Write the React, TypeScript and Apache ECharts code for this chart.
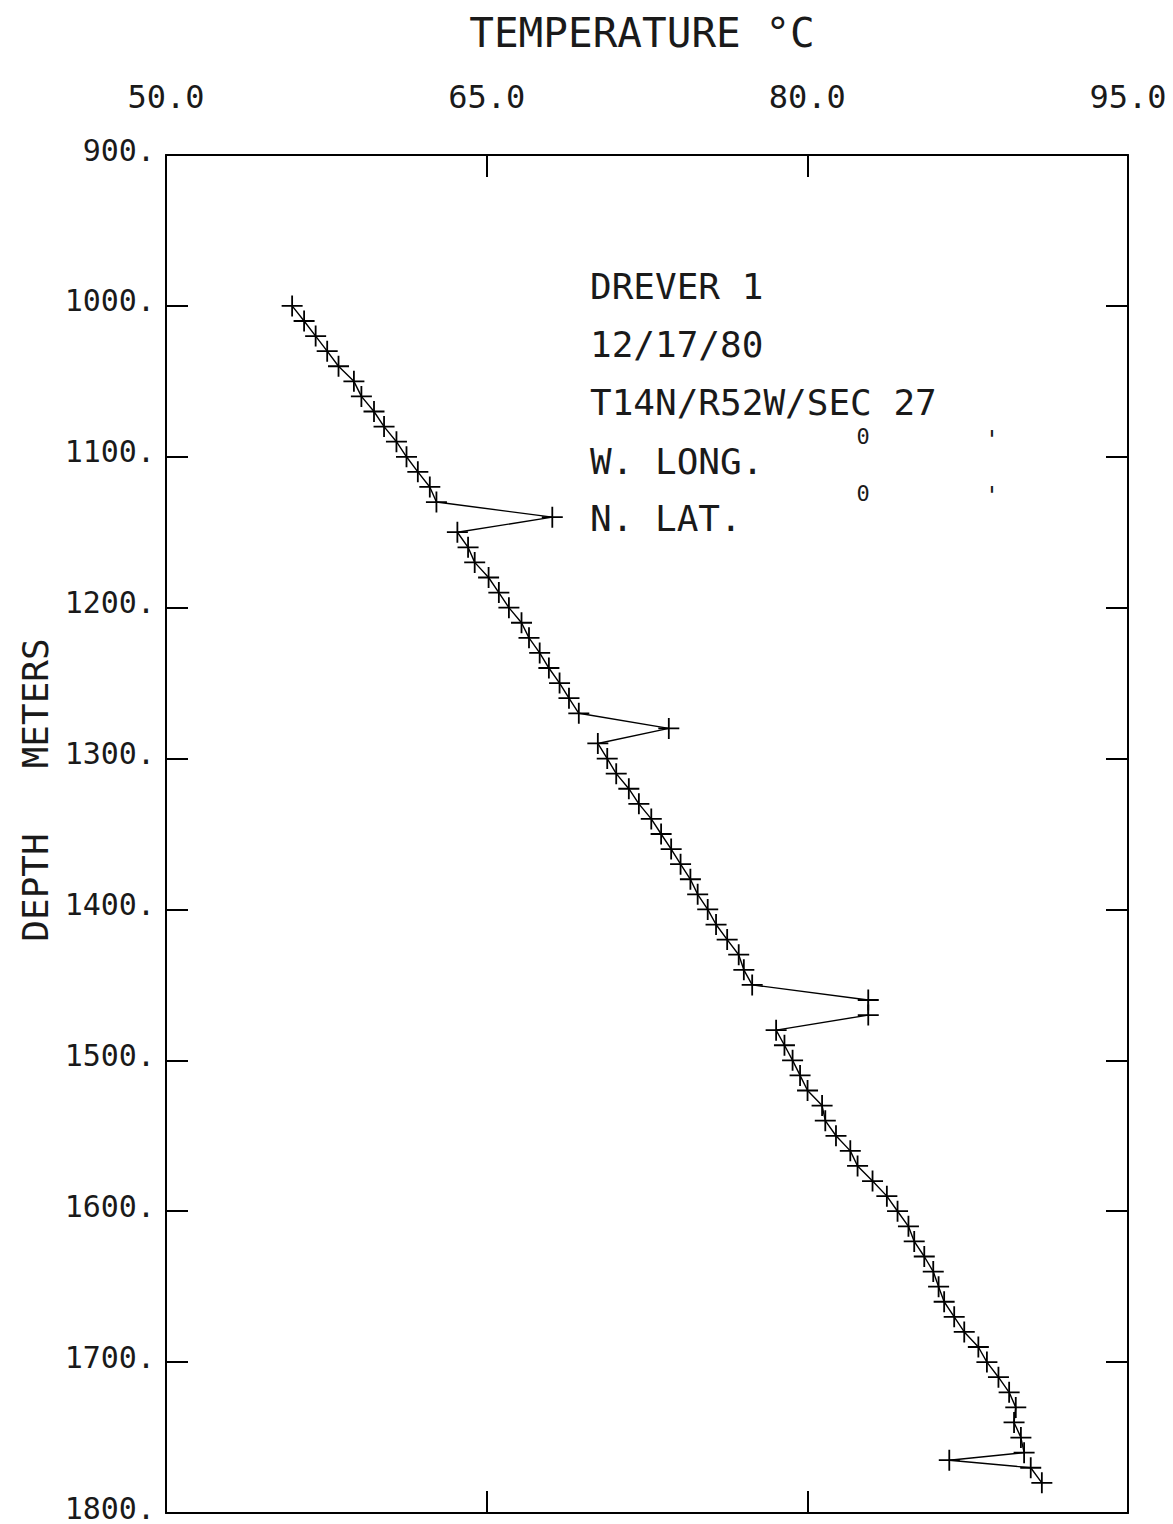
import React, { useEffect, useRef } from "react";
import * as echarts from "echarts";

const depths: number[] = [
  1000, 1010, 1020, 1030, 1040, 1050, 1060, 1070, 1080, 1090,
  1100, 1110, 1120, 1130, 1140, 1150, 1160, 1170, 1180, 1190,
  1200, 1210, 1220, 1230, 1240, 1250, 1260, 1270, 1280, 1290,
  1300, 1310, 1320, 1330, 1340, 1350, 1360, 1370, 1380, 1390,
  1400, 1410, 1420, 1430, 1440, 1450, 1460, 1470, 1480, 1490,
  1500, 1510, 1520, 1530, 1540, 1550, 1560, 1570, 1580, 1590,
  1600, 1610, 1620, 1630, 1640, 1650, 1660, 1670, 1680, 1690,
  1700, 1710, 1720, 1730, 1740, 1750, 1760, 1765, 1770, 1780,
];

const temps: number[] = [
  55.9, 56.46, 57.0, 57.54, 58.07, 58.79, 59.14, 59.73, 60.2, 60.78,
  61.25, 61.78, 62.34, 62.65, 68.07, 63.63, 64.13, 64.44, 65.09, 65.57,
  66.04, 66.63, 66.98, 67.48, 67.91, 68.41, 68.85, 69.31, 73.52, 70.2,
  70.64, 71.06, 71.65, 72.12, 72.7, 73.16, 73.63, 74.07, 74.53, 74.87,
  75.34, 75.73, 76.25, 76.79, 77.03, 77.42, 82.85, 82.85, 78.54, 78.93,
  79.31, 79.66, 80.01, 80.69, 80.84, 81.34, 82.01, 82.35, 83.05, 83.72,
  84.22, 84.73, 85.0, 85.47, 85.89, 86.14, 86.4, 86.87, 87.34, 88.0,
  88.4, 88.94, 89.44, 89.75, 89.67, 89.99, 90.14, 86.64, 90.45, 90.97,
];

const xTicks = { min: 50, max: 95, interval: 15 };
const yTicks = { min: 900, max: 1800, interval: 100 };

const titleText = "TEMPERATURE °C";
const yTitleText = "DEPTH   METERS";
const infoLines: string[] = [
  "DREVER 1",
  "12/17/80",
  "T14N/R52W/SEC 27",
  "W. LONG.",
  "N. LAT.",
];

const FONT = "'DejaVu Sans Mono', monospace";
const INK = "#1a1a1a";

export default function App() {
  const ref = useRef<HTMLDivElement>(null);

  useEffect(() => {
    if (!ref.current) return;
    const chart = echarts.init(ref.current, undefined, { renderer: "svg" });

    const points = depths.map((d, i) => [temps[i], d]);
    const axisLine = { show: true, lineStyle: { color: "#000", width: 2 } };
    const tick = { show: true, inside: true, length: 22, lineStyle: { color: "#000", width: 2 } };

    const infoY = [286, 344, 402, 461, 518];

    chart.setOption({
      animation: false,
      backgroundColor: "#fff",
      grid: { left: 166, right: 45, top: 155, bottom: 11, containLabel: false },
      xAxis: [
        {
          type: "value",
          position: "top",
          min: xTicks.min,
          max: xTicks.max,
          interval: xTicks.interval,
          axisLine,
          axisTick: tick,
          splitLine: { show: false },
          axisLabel: {
            show: true,
            margin: 42,
            fontFamily: FONT,
            fontSize: 32,
            color: INK,
            formatter: (v: number) => v.toFixed(1),
          },
        },
        {
          type: "value",
          position: "bottom",
          min: xTicks.min,
          max: xTicks.max,
          interval: xTicks.interval,
          axisLine,
          axisTick: tick,
          splitLine: { show: false },
          axisLabel: { show: false },
        },
      ],
      yAxis: [
        {
          type: "value",
          position: "left",
          inverse: true,
          min: yTicks.min,
          max: yTicks.max,
          interval: yTicks.interval,
          axisLine,
          axisTick: tick,
          splitLine: { show: false },
          axisLabel: {
            show: true,
            margin: 11,
            fontFamily: FONT,
            fontSize: 30,
            color: INK,
            verticalAlign: "bottom",
            lineHeight: 10,
            formatter: (v: number) => `${v}.`,
          },
        },
        {
          type: "value",
          position: "right",
          inverse: true,
          min: yTicks.min,
          max: yTicks.max,
          interval: yTicks.interval,
          axisLine,
          axisTick: tick,
          splitLine: { show: false },
          axisLabel: { show: false },
        },
      ],
      series: [
        {
          type: "line",
          xAxisIndex: 0,
          yAxisIndex: 0,
          data: points,
          symbol: "path://M0,10L20,10M10,0L10,20",
          symbolSize: 21,
          showSymbol: true,
          lineStyle: { color: "#000", width: 1.4 },
          itemStyle: { color: "transparent", borderColor: "#000", borderWidth: 1.8 },
          z: 3,
        },
      ],
      graphic: [
        {
          type: "text",
          x: 642,
          y: 33,
          style: {
            text: titleText,
            fontFamily: FONT,
            fontSize: 41,
            fill: INK,
            align: "center",
            verticalAlign: "middle",
          },
        },
        {
          type: "text",
          x: 35,
          y: 790,
          rotation: Math.PI / 2,
          style: {
            text: yTitleText,
            fontFamily: FONT,
            fontSize: 36,
            fill: INK,
            align: "center",
            verticalAlign: "middle",
          },
        },
        ...infoLines.map((t, i) => ({
          type: "text",
          x: 590,
          y: infoY[i],
          style: {
            text: t,
            fontFamily: FONT,
            fontSize: 36,
            fill: INK,
            align: "left",
            verticalAlign: "middle",
          },
        })),
        {
          type: "text",
          x: 863,
          y: 436,
          style: { text: "0", fontFamily: FONT, fontSize: 22, fill: INK, align: "center", verticalAlign: "middle" },
        },
        {
          type: "text",
          x: 863,
          y: 493,
          style: { text: "0", fontFamily: FONT, fontSize: 22, fill: INK, align: "center", verticalAlign: "middle" },
        },
        {
          type: "text",
          x: 992,
          y: 440,
          style: { text: "'", fontFamily: FONT, fontSize: 24, fill: INK, align: "center", verticalAlign: "middle" },
        },
        {
          type: "text",
          x: 992,
          y: 496,
          style: { text: "'", fontFamily: FONT, fontSize: 24, fill: INK, align: "center", verticalAlign: "middle" },
        },
      ],
    });

    return () => chart.dispose();
  }, []);

  return (
    <div
      ref={ref}
      style={{ position: "absolute", left: 0, top: 0, width: 1173, height: 1524, background: "#fff" }}
    />
  );
}
